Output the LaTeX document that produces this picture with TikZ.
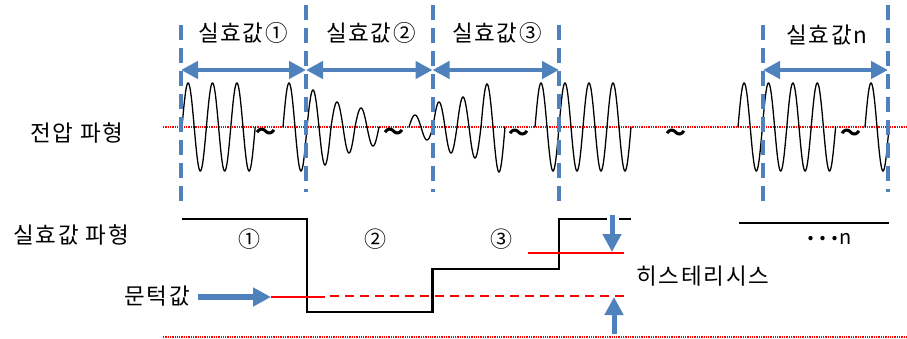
\documentclass[tikz,border=0pt]{standalone}
\usepackage{fontspec}
\setmainfont{Noto Sans CJK KR}
\usetikzlibrary{arrows.meta}
\definecolor{ablue}{RGB}{79,129,189}
\definecolor{lred}{RGB}{255,0,0}
\newcommand\halfwaves[3]{%
  \foreach \a [count=\i from 0] in {#3}{%
    \pgfmathsetmacro\xs{#1+\i*#2}%
    \pgfmathsetmacro\xe{\xs+#2}%
    \draw[wave] plot[domain=\xs:\xe, samples=24, smooth] (\x,{127-\a*sin(180*(\x-\xs)/#2)});
  }}
\begin{document}
\begin{tikzpicture}[x=1pt,y=-1pt,
  lbl/.style={inner sep=0pt, font=\fontsize{22.5}{26}\selectfont\addfontfeature{LetterSpace=8}},
  circ/.style={inner sep=0pt, font=\fontsize{22}{24}\selectfont},
  tld/.style={inner sep=0pt, font=\fontsize{21}{24}\selectfont\bfseries},
  vdash/.style={draw=ablue, line width=4pt, dash pattern=on 15pt off 8pt},
  dblarrow/.style={draw=ablue, line width=4.5pt,
     {Triangle[length=17pt,width=17pt]}-{Triangle[length=17pt,width=17pt]}},
  bigarrow/.style={draw=ablue, line width=5.5pt, -{Triangle[length=18pt,width=18pt]}},
  wave/.style={black, line width=1.3pt, line cap=round},
  levelline/.style={black, line width=2.4pt},
  reddot/.style={lred, line width=1.3pt, dash pattern=on 1.3pt off 1pt},
  redsolid/.style={lred, line width=1.1pt},
  reddash/.style={lred, line width=1.1pt, dash pattern=on 9pt off 6pt}]
\useasboundingbox (0,0) rectangle (907,339);

% red reference lines
\draw[reddot] (163,127) -- (907,127);
\draw[reddot] (163,337) -- (907,337);

% voltage waveforms
\halfwaves{182}{12.2}{44,-44,44,-44,44,-44}
\halfwaves{283}{12}{44,-44,37,-38,25,-26,19,-19}
\halfwaves{409}{12}{12,-13,25,-26,30,-31,43,-45}
\halfwaves{535}{12}{44,-44,44,-44,44,-44,44,-44}
\halfwaves{738}{12.2}{44,-44,44,-44,44,-44,44,-44}
\halfwaves{865}{12}{44,-44}

\node[tld] (t1) at (266,134) {～};
\node[tld] (t2) at (394,134) {～};
\node[tld] (t3) at (519,135) {～};
\node[tld] (t4) at (676,135) {～};
\node[tld] (t5) at (851,135) {～};

% dashed separators
\coordinate (d1t) at (181,25);  \coordinate (d1b) at (181,208);
\coordinate (d2t) at (306,5);   \coordinate (d2b) at (306,192);
\coordinate (d3t) at (432.5,5); \coordinate (d3b) at (432.5,192);
\coordinate (d4t) at (559,25);  \coordinate (d4b) at (559,207);
\coordinate (d5t) at (763,25);  \coordinate (d5b) at (763,207);
\coordinate (d6t) at (888,5);   \coordinate (d6b) at (888,192);
\foreach \k in {1,...,6}{\draw[vdash] (d\k t) -- (d\k b);}

% interval arrows
\coordinate (a1) at (181,70);
\coordinate (a2) at (306,70);
\coordinate (a3) at (432.5,70);
\coordinate (a4) at (559,70);
\coordinate (a5) at (763,70);
\coordinate (a6) at (888,70);
\draw[dblarrow] (a1) -- (a2);
\draw[dblarrow] (a2) -- (a3);
\draw[dblarrow] (a3) -- (a4);
\draw[dblarrow] (a5) -- (a6);

% top labels
\node[lbl] (r1) at (243,33) {실효값①};
\node[lbl] (r2) at (371,33) {실효값②};
\node[lbl] (r3) at (497,33) {실효값③};
\node[lbl] (rn) at (827,35) {실효값n};

% left labels
\node[lbl] (volt) at (77,133) {전압 파형};
\node[lbl] (rms) at (71,235) {실효값 파형};
\node[lbl] (mun) at (157,296) {문턱값};

% effective value waveform
\draw[levelline] (182,219) -- (307,219) -- (307,312) -- (432.5,312) -- (432.5,269)
   -- (559,269) -- (559,219) -- (607,219);
\draw[levelline] (619,219) -- (631,219);
\draw[levelline, line width=2pt] (739,223) -- (889,223);

\node[circ] (c1) at (249,239) {①};
\node[circ] (c2) at (375,239) {②};
\node[circ] (c3) at (501,239) {③};
\node[circ, font=\fontsize{20}{22}\selectfont] (cn) at (830,239)
  {\raisebox{4pt}{\bfseries.\hspace{5pt}.\hspace{5pt}.}\hspace{1pt}n};

% threshold and hysteresis lines
\coordinate (thr) at (271,297);
\draw[redsolid] (thr) -- (325,297);
\draw[reddash] (330,296) -- (624,296);
\draw[redsolid] (528,253) -- (624,253);

\draw[bigarrow] (198,297) -- (thr);
\coordinate (hdt) at (612,215);
\coordinate (hdb) at (612,252);
\coordinate (hut) at (614,297);
\coordinate (hub) at (614,334);
\draw[bigarrow, line width=5pt] (hdt) -- (hdb);
\draw[bigarrow, line width=5pt] (hub) -- (hut);

\node[lbl] (hys) at (703,276) {히스테리시스};
\end{tikzpicture}
\end{document}
